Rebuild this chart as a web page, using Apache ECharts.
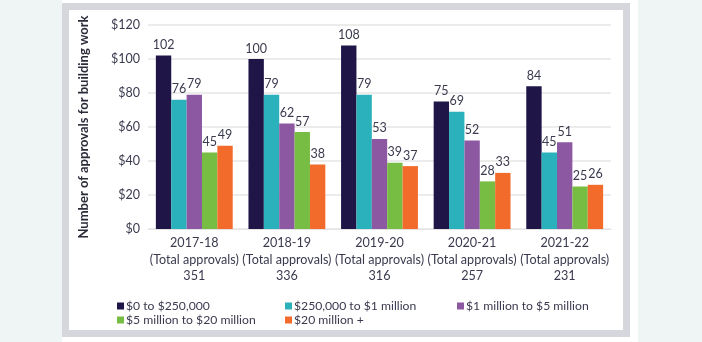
<!DOCTYPE html>
<html><head><meta charset="utf-8">
<script src="https://cdn.jsdelivr.net/npm/echarts@6/dist/echarts.min.js"></script>
<style>html,body{margin:0;padding:0;background:#eef5f4;}#c{width:702px;height:342px;}</style>
</head><body><div id="c"></div>
<script>
const years = ['2017-18','2018-19','2019-20','2020-21','2021-22'];
const totals = [351, 336, 316, 257, 231];
const seriesNames = ['$0 to $250,000','$250,000 to $1 million','$1 million to $5 million','$5 million to $20 million','$20 million +'];
const s0to250k = [102, 100, 108, 75, 84];
const s250kTo1m = [76, 79, 79, 69, 45];
const s1mTo5m = [79, 62, 53, 52, 51];
const s5mTo20m = [45, 57, 39, 28, 25];
const s20mPlus = [49, 38, 37, 33, 26];
const yTicks = [0, 20, 40, 60, 80, 100, 120];

const colors = ['#1f1547','#2bb1bb','#8c58a2','#78bd43','#f26b2b'];
const values = [s0to250k, s250kTo1m, s1mTo5m, s5mTo20m, s20mPlus];
const categories = years.map((y,i)=> y + '\n(Total approvals)\n' + totals[i]);
const txt = '#3a3a4f';
const font = 'Lato';

const chart = echarts.init(document.getElementById('c'));
const legendPos = [[112,295],[280,295],[452,295],[112,309],[280,309]];
chart.setOption({
  animation:false,
  textStyle:{fontFamily:font},
  graphic:[
    {type:'rect',shape:{x:62,y:0,width:576,height:342},style:{fill:'#ffffff'},z:-10},
    {type:'rect',shape:{x:65.5,y:6.5,width:561,height:327},style:{fill:'#ffffff',stroke:'#d6d6dd',lineWidth:7},z:-9}
  ],
  grid:{left:148,right:91,top:25,bottom:113},
  legend: seriesNames.map((n,i)=>({
    data:[n], left:legendPos[i][0], top:legendPos[i][1],
    itemWidth:7,itemHeight:7,itemGap:0,icon:'rect',
    textStyle:{fontFamily:font,fontSize:12.2,color:txt,padding:[0,0,0,-3]}
  })),
  xAxis:{type:'category',data:categories,
    axisLine:{lineStyle:{color:'#e3e3e3'}},axisTick:{show:false},
    axisLabel:{interval:0,fontFamily:font,fontSize:12.6,color:txt,lineHeight:16.5,margin:6}},
  yAxis:{type:'value',min:yTicks[0],max:yTicks[yTicks.length-1],interval:20,
    name:'Number of approvals for building work',nameLocation:'middle',nameGap:58,
    nameTextStyle:{fontFamily:font,fontSize:13,fontWeight:'bold',color:'#2b2b3a'},
    axisLabel:{formatter:v=>'$'+v,fontFamily:font,fontSize:12.5,color:txt,margin:8},
    splitLine:{lineStyle:{color:'#e6e6e6',width:1.5}},axisLine:{show:false},axisTick:{show:false}},
  series: seriesNames.map((n,i)=>({
    name:n,type:'bar',data:values[i],barGap:'0%',barCategoryGap:'17%',
    itemStyle:{color:colors[i]},
    label:{show:true,position:'top',distance:4,fontFamily:font,fontSize:12.5,color:txt}
  }))
});
</script></body></html>
